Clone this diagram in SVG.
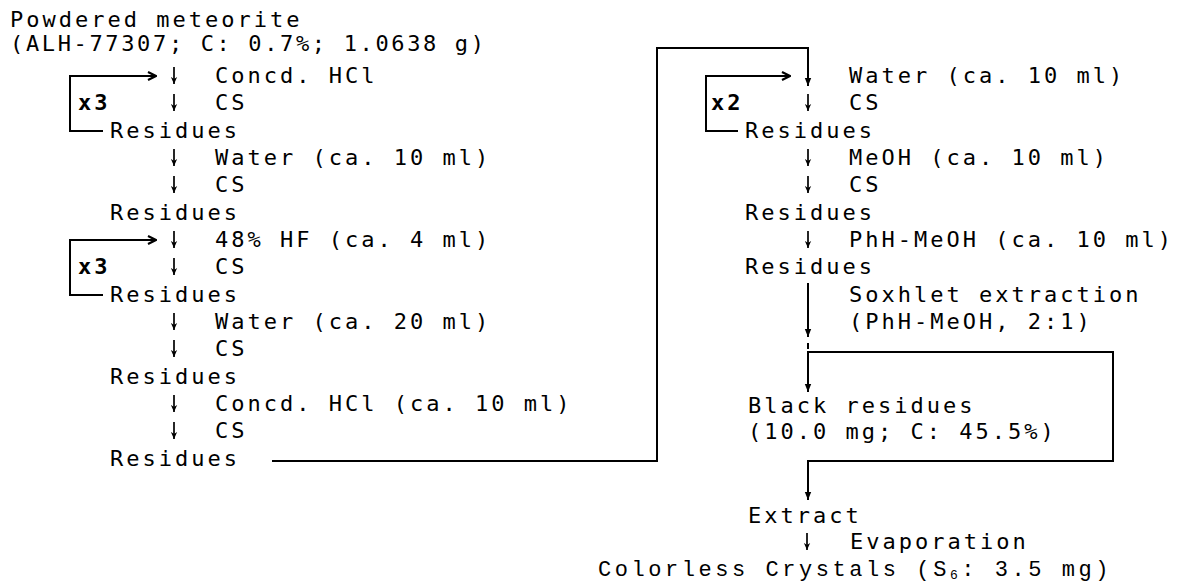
<svg xmlns="http://www.w3.org/2000/svg" width="1184" height="586" viewBox="0 0 1184 586">
<defs>
<style>
text{font-family:"DejaVu Sans Mono","Liberation Mono",monospace;font-size:22px;fill:#000;letter-spacing:3px}
.b{font-weight:bold}
.ln{fill:none;stroke:#000;stroke-width:2}
.dn{fill:none;stroke:#000;stroke-width:1.7}
.alt{font-family:"Liberation Mono",monospace;font-size:22px;letter-spacing:3.5px}
</style>
<marker id="chev" viewBox="0 0 10 10" refX="9" refY="5" markerWidth="10" markerHeight="10" markerUnits="userSpaceOnUse" orient="auto">
<path d="M1,1 L9,5 L1,9" fill="none" stroke="#000" stroke-width="2.2"/>
</marker>
<marker id="tri" viewBox="0 0 10 10" refX="10" refY="5" markerWidth="10" markerHeight="8" markerUnits="userSpaceOnUse" orient="auto">
<path d="M0,1 L10,5 L0,9 Z" fill="#000"/>
</marker>
<marker id="sm" viewBox="0 0 10 10" refX="10" refY="5" markerWidth="7" markerHeight="7" markerUnits="userSpaceOnUse" orient="auto">
<path d="M0,0.5 L10,5 L0,9.5 L3,5 Z" fill="#000"/>
</marker>
</defs>
<rect width="1184" height="586" fill="#fff"/>

<g id="start">
<text x="10" y="27">Powdered meteorite</text>
<text x="10" y="51" textLength="477" lengthAdjust="spacing">(ALH-77307; C: 0.7%; 1.0638 g)</text>
</g>
<g id="step1">
<text x="215" y="83">Concd. HCl</text>
<text x="78" y="110" class="b">x3</text>
<text x="215" y="110">CS</text>
</g>
<g id="res1"><text x="110" y="138">Residues</text></g>
<g id="step2">
<text x="215" y="165">Water (ca. 10 ml)</text>
<text x="215" y="192">CS</text>
</g>
<g id="res2"><text x="110" y="220">Residues</text></g>
<g id="step3">
<text x="215" y="247">48% HF (ca. 4 ml)</text>
<text x="78" y="274" class="b">x3</text>
<text x="215" y="274">CS</text>
</g>
<g id="res3"><text x="110" y="302">Residues</text></g>
<g id="step4">
<text x="215" y="329">Water (ca. 20 ml)</text>
<text x="215" y="356">CS</text>
</g>
<g id="res4"><text x="110" y="384">Residues</text></g>
<g id="step5">
<text x="215" y="411">Concd. HCl (ca. 10 ml)</text>
<text x="215" y="438">CS</text>
</g>
<g id="res5"><text x="110" y="466">Residues</text></g>

<g id="step6">
<text x="849" y="83">Water (ca. 10 ml)</text>
<text x="711" y="110" class="b">x2</text>
<text x="849" y="110">CS</text>
</g>
<g id="res6"><text x="745" y="138">Residues</text></g>
<g id="step7">
<text x="849" y="165">MeOH (ca. 10 ml)</text>
<text x="849" y="192">CS</text>
</g>
<g id="res7"><text x="745" y="220">Residues</text></g>
<g id="step8"><text x="849" y="247">PhH-MeOH (ca. 10 ml)</text></g>
<g id="res8"><text x="745" y="274">Residues</text></g>
<g id="step9">
<text x="849" y="302">Soxhlet extraction</text>
<text x="849" y="329">(PhH-MeOH, 2:1)</text>
</g>
<g id="black">
<text x="748" y="413">Black residues</text>
<text x="748" y="439">(10.0 mg; C: 45.5%)</text>
</g>
<g id="extract"><text x="748" y="523">Extract</text></g>
<g id="step10"><text x="850" y="549">Evaporation</text></g>
<g id="crystals"><text class="alt" x="598" y="576" textLength="514" lengthAdjust="spacing">Colorless Crystals (S<tspan font-size="13" dy="3">6</tspan><tspan dy="-3">: 3.5 mg)</tspan></text></g>

<g id="connectors">
<path class="dn" d="M174,67 V84" marker-end="url(#sm)"/>
<path class="dn" d="M174,94 V111" marker-end="url(#sm)"/>
<path class="dn" d="M174,149 V166" marker-end="url(#sm)"/>
<path class="dn" d="M174,176 V193" marker-end="url(#sm)"/>
<path class="dn" d="M174,231 V248" marker-end="url(#sm)"/>
<path class="dn" d="M174,258 V275" marker-end="url(#sm)"/>
<path class="dn" d="M174,313 V330" marker-end="url(#sm)"/>
<path class="dn" d="M174,340 V357" marker-end="url(#sm)"/>
<path class="dn" d="M174,395 V412" marker-end="url(#sm)"/>
<path class="dn" d="M174,422 V439" marker-end="url(#sm)"/>
<path class="dn" d="M808,94 V111" marker-end="url(#sm)"/>
<path class="dn" d="M808,149 V166" marker-end="url(#sm)"/>
<path class="dn" d="M808,176 V193" marker-end="url(#sm)"/>
<path class="dn" d="M808,231 V248" marker-end="url(#sm)"/>
<path class="dn" d="M807,533 V550" marker-end="url(#sm)"/>
<path class="ln" d="M103,131 H70 V76 H156" marker-end="url(#chev)"/>
<path class="ln" d="M103,295 H70 V240 H156" marker-end="url(#chev)"/>
<path class="ln" d="M738,131 H706 V76 H790" marker-end="url(#chev)"/>
<path class="ln" d="M272,461 H657 V48 H808 V86" marker-end="url(#tri)"/>
<path class="ln" d="M808,283 V337" marker-end="url(#tri)"/>
<path class="ln" d="M808,343 V349"/>
<path class="ln" d="M808,392 V352 H1113 V461 H808 V500" marker-end="url(#tri)"/>
<path class="ln" d="M808,352 V392" marker-end="url(#tri)"/>
</g>
</svg>
